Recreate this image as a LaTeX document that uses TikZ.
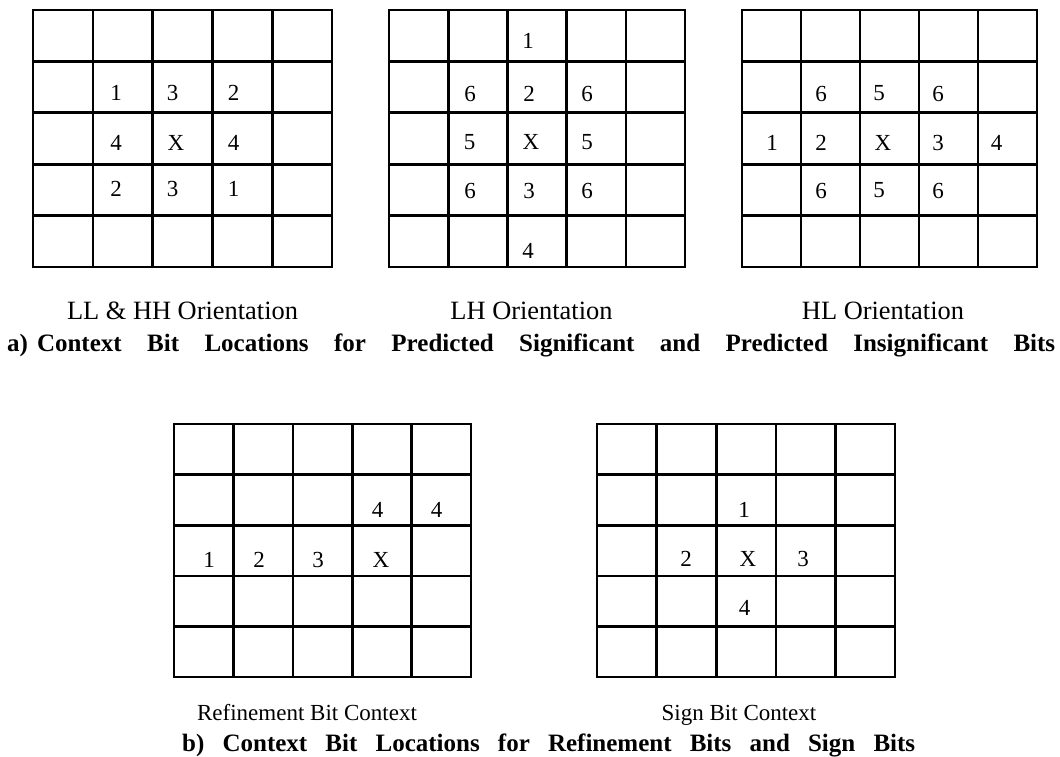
\documentclass[tikz,border=0pt]{standalone}
\usepackage{fontspec}
\setmainfont{Liberation Serif}
\tikzset{
  gridline/.style={line width=2.6pt, line cap=rect},
  dig/.style={font=\fontsize{23}{25}\selectfont, inner sep=0pt},
  toplab/.style={font=\fontsize{26.4}{30}\selectfont, inner sep=0pt, anchor=base},
  botlab/.style={font=\fontsize{23}{27}\selectfont, inner sep=0pt, anchor=base},
  caption/.style={font=\bfseries\fontsize{25}{29}\selectfont, inner sep=0pt, anchor=base west}
}
\newcommand\cellgrid[4]{%
  \foreach \i in {0,...,5}{%
    \draw[gridline] ({#1+\i*(#3-#1)/5},#2) -- ({#1+\i*(#3-#1)/5},#4);
    \draw[gridline] (#1,{#2+\i*(#4-#2)/5}) -- (#3,{#2+\i*(#4-#2)/5});
  }}
\begin{document}
\begin{tikzpicture}[x=1pt,y=-1pt]
\useasboundingbox[fill=white] (0,0) rectangle (1060,757);
% grids
\cellgrid{33}{10}{332}{267}
\cellgrid{389}{10}{685}{267}
\cellgrid{742}{10}{1037}{267}
\cellgrid{174}{424}{471}{677}
\cellgrid{597}{424}{895}{677}
% grid 1: LL & HH
\node[dig] (a1) at (116,93) {1};
\node[dig] (a2) at (172.5,93) {3};
\node[dig] (a3) at (233.5,93) {2};
\node[dig] (a4) at (116,142.5) {4};
\node[dig] (a5) at (176,142.5) {X};
\node[dig] (a6) at (233.5,142.5) {4};
\node[dig] (a7) at (116,188.5) {2};
\node[dig] (a8) at (172.5,188.5) {3};
\node[dig] (a9) at (233.5,188.5) {1};
% grid 2: LH
\node[dig] (b1) at (528,41) {1};
\node[dig] (b2) at (470,93.5) {6};
\node[dig] (b3) at (529,93.5) {2};
\node[dig] (b4) at (587,93.5) {6};
\node[dig] (b5) at (469.5,142) {5};
\node[dig] (b6) at (531,142) {X};
\node[dig] (b7) at (587,142) {5};
\node[dig] (b8) at (470,191) {6};
\node[dig] (b9) at (529,191) {3};
\node[dig] (b10) at (587,191) {6};
\node[dig] (b11) at (528,250.5) {4};
% grid 3: HL
\node[dig] (c1) at (821,93.5) {6};
\node[dig] (c2) at (879,93.5) {5};
\node[dig] (c3) at (938,93.5) {6};
\node[dig] (c4) at (772,142.5) {1};
\node[dig] (c5) at (821,142.5) {2};
\node[dig] (c6) at (883,142.5) {X};
\node[dig] (c7) at (938,142.5) {3};
\node[dig] (c8) at (996.5,142.5) {4};
\node[dig] (c9) at (821,190.5) {6};
\node[dig] (c10) at (879,190.5) {5};
\node[dig] (c11) at (938,190.5) {6};
% grid 4: refinement
\node[dig] (d1) at (377.5,509.5) {4};
\node[dig] (d2) at (436.5,509.5) {4};
\node[dig] (d3) at (209,559.5) {1};
\node[dig] (d4) at (259,559.5) {2};
\node[dig] (d5) at (318,559.5) {3};
\node[dig] (d6) at (381,559.5) {X};
% grid 5: sign
\node[dig] (e1) at (744,509.5) {1};
\node[dig] (e2) at (686,558.5) {2};
\node[dig] (e3) at (748,558.5) {X};
\node[dig] (e4) at (803,558.5) {3};
\node[dig] (e5) at (744.5,608) {4};
% labels
\node[toplab] (l1) at (182.5,319.5) {LL \& HH Orientation};
\node[toplab] (l2) at (531.5,319.5) {LH Orientation};
\node[toplab] (l3) at (883,319.5) {HL Orientation};
\node[botlab] (l4) at (307,720) {Refinement Bit Context};
\node[botlab] (l5) at (739,720) {Sign Bit Context};
% captions
\node[caption] (capa) at (7,351) {\makebox[1048pt][s]{a)\hspace{9pt}Context Bit Locations for Predicted Significant and Predicted Insignificant Bits}};
\node[caption] (capb) at (182,751) {\makebox[733pt][s]{b) Context Bit Locations for Refinement Bits and Sign Bits}};
\end{tikzpicture}
\end{document}
